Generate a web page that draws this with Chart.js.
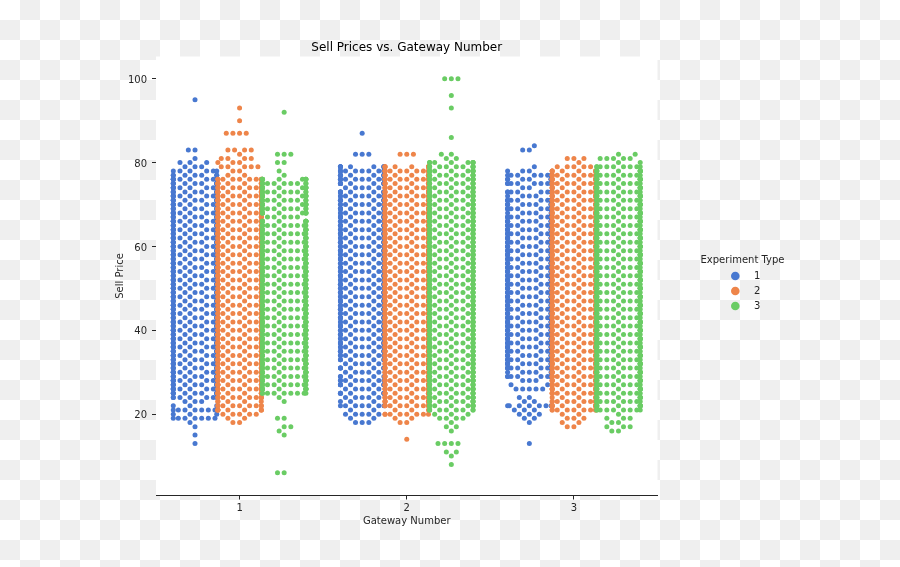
<!DOCTYPE html>
<html>
<head>
<meta charset="utf-8">
<script src="https://cdn.jsdelivr.net/npm/chart.js@4"></script>
<style>
html,body{margin:0;padding:0;width:900px;height:567px;overflow:hidden;
background:conic-gradient(#efefef 25%,#fff 0 50%,#efefef 0 75%,#fff 0) 0 0/40px 40px;}
#wrap{width:900px;height:567px;position:relative}
canvas{display:block}
</style>
</head>
<body>
<div id="wrap"><canvas id="c" width="900" height="567"></canvas></div>
<script>
const chartTitle = "Sell Prices vs. Gateway Number";
const xTitle = "Gateway Number";
const yTitle = "Sell Price";
const legendTitle = "Experiment Type";
const gatewayLabels = ["1","2","3"];
const typeLabels = ["1","2","3"];
const typeColors = ["#4878d0","#ee854a","#6acc64"];
const yTicks = [20,40,60,80,100];

// price rows (integers) and how many sales sit on each row
const g1t1Prices = [13,15,17,18,19,20,21,22,23,24,25,26,27,28,29,30,31,32,33,34,35,36,37,38,39,40,41,42,43,44,45,46,47,48,49,50,51,52,53,54,55,56,57,58,59,60,61,62,63,64,65,66,67,68,69,70,71,72,73,74,75,76,77,78,79,80,81,83,95];
const g1t1Counts = [1,1,1,1,7,3,7,3,3,7,10,10,10,10,10,10,10,10,10,10,10,10,10,10,10,10,10,10,10,10,10,10,10,10,10,10,10,10,10,10,10,10,10,10,10,10,10,10,10,10,10,10,10,10,10,10,10,10,10,10,10,10,7,6,3,3,1,2,1];
const g1t2Prices = [18,19,20,21,22,23,24,25,26,27,28,29,30,31,32,33,34,35,36,37,38,39,40,41,42,43,44,45,46,47,48,49,50,51,52,53,54,55,56,57,58,59,60,61,62,63,64,65,66,67,68,69,70,71,72,73,74,75,76,77,78,79,80,81,82,83,87,90,93];
const g1t2Counts = [2,2,5,9,9,5,10,10,10,10,10,10,10,10,10,10,10,10,10,10,10,10,10,10,10,10,10,10,10,10,10,10,10,10,10,10,10,10,10,10,10,10,10,10,10,10,10,10,10,10,10,10,10,10,10,10,10,10,9,2,2,5,3,4,1,4,4,1,1];
const g1t3Prices = [6,15,16,17,19,23,24,25,26,27,28,29,30,31,32,33,34,35,36,37,38,39,40,41,42,43,44,45,46,47,48,49,50,51,52,53,54,55,56,57,58,59,60,61,62,63,64,65,66,67,68,69,70,71,72,73,74,75,76,77,78,80,82,92];
const g1t3Counts = [2,1,1,2,2,1,1,9,10,10,10,10,10,10,10,10,10,10,10,10,10,10,10,10,10,10,10,10,10,10,10,10,10,10,10,10,10,10,10,10,10,10,10,10,10,10,10,10,10,5,10,10,10,10,10,10,10,10,9,1,1,2,3,1];
const g2t1Prices = [18,19,20,21,22,23,24,25,26,27,28,29,30,31,32,33,34,35,36,37,38,39,40,41,42,43,44,45,46,47,48,49,50,51,52,53,54,55,56,57,58,59,60,61,62,63,64,65,66,67,68,69,70,71,72,73,74,75,76,77,78,79,82,87];
const g2t1Counts = [3,2,5,2,7,3,5,8,5,8,8,5,5,8,5,6,9,9,10,10,10,10,10,10,10,10,10,10,10,10,10,10,10,10,10,10,10,10,10,10,10,10,10,10,10,10,10,10,10,10,10,10,10,10,10,10,5,10,10,10,10,9,3,1];
const g2t2Prices = [14,18,19,20,21,22,23,24,25,26,27,28,29,30,31,32,33,34,35,36,37,38,39,40,41,42,43,44,45,46,47,48,49,50,51,52,53,54,55,56,57,58,59,60,61,62,63,64,65,66,67,68,69,70,71,72,73,74,75,76,77,78,79,82];
const g2t2Counts = [1,2,2,8,3,10,10,10,10,10,10,10,10,10,10,10,10,10,10,10,10,10,10,10,10,10,10,10,10,10,10,10,10,10,10,10,10,10,10,10,10,10,10,10,10,10,10,10,10,10,10,10,10,10,10,10,10,10,10,10,10,10,9,3];
const g2t3Prices = [8,10,11,13,16,17,18,19,20,21,22,23,24,25,26,27,28,29,30,31,32,33,34,35,36,37,38,39,40,41,42,43,44,45,46,47,48,49,50,51,52,53,54,55,56,57,58,59,60,61,62,63,64,65,66,67,68,69,70,71,72,73,74,75,76,77,78,79,80,81,82,86,93,96,100];
const g2t3Counts = [1,1,2,4,1,2,1,4,3,9,10,10,10,10,10,10,10,10,10,10,10,10,10,10,10,10,10,10,10,10,10,10,10,10,10,10,10,10,10,10,10,10,10,10,10,10,10,10,10,10,10,10,10,10,10,10,10,10,10,10,10,10,10,10,10,10,10,10,8,2,2,1,1,1,3];
const g3t1Prices = [13,18,19,20,21,22,23,24,26,27,28,29,30,31,32,33,34,35,36,37,38,39,40,41,42,43,44,45,46,47,48,49,50,51,52,53,54,55,56,57,58,59,60,61,62,63,64,65,66,67,68,69,70,71,72,73,74,75,76,77,78,79,83,84];
const g3t1Counts = [1,1,2,3,3,7,2,2,5,2,3,8,5,10,10,10,10,10,10,10,10,10,10,10,10,10,10,10,10,10,10,10,10,10,10,10,10,10,10,10,10,10,10,10,10,10,10,10,10,10,5,9,9,9,4,8,2,8,7,7,3,1,2,1];
const g3t2Prices = [17,18,19,20,21,22,23,24,25,26,27,28,29,30,31,32,33,34,35,36,37,38,39,40,41,42,43,44,45,46,47,48,49,50,51,52,53,54,55,56,57,58,59,60,61,62,63,64,65,66,67,68,69,70,71,72,73,74,75,76,77,78,79,80,81];
const g3t2Counts = [2,2,3,2,9,10,10,5,10,10,10,10,10,10,10,10,10,10,10,10,10,10,10,10,10,10,10,10,10,10,10,10,10,10,10,10,10,10,10,10,10,10,10,10,10,10,10,10,10,10,10,10,10,10,10,10,10,10,10,10,10,8,5,1,3];
const g3t3Prices = [16,17,18,19,20,21,22,23,24,25,26,27,28,29,30,31,32,33,34,35,36,37,38,39,40,41,42,43,44,45,46,47,48,49,50,51,52,53,54,55,56,57,58,59,60,61,62,63,64,65,66,67,68,69,70,71,72,73,74,75,76,77,78,79,80,81,82];
const g3t3Counts = [2,3,2,3,1,9,10,10,10,10,10,10,10,10,10,10,10,10,10,10,10,10,10,10,10,10,10,10,10,10,10,10,10,10,10,10,10,10,10,10,10,10,10,10,10,10,10,10,10,10,10,10,10,10,10,10,10,10,10,10,10,10,10,9,2,5,2];

const swarms = [
  [[g1t1Prices,g1t1Counts],[g2t1Prices,g2t1Counts],[g3t1Prices,g3t1Counts]],
  [[g1t2Prices,g1t2Counts],[g2t2Prices,g2t2Counts],[g3t2Prices,g3t2Counts]],
  [[g1t3Prices,g1t3Counts],[g2t3Prices,g2t3Counts],[g3t3Prices,g3t3Counts]]
];

// Swarm layout (same method as a seaborn swarmplot)
const PX_X = 167.3, PX_Y = 4.19, DOT = 6.35, DODGE = 0.8/3, GUTTER = 0.13;
function beeswarm(prices, counts){
  const placed = [], out = [];
  prices.forEach((p,r)=>{
    const y = p*PX_Y;
    for(let n=0;n<counts[r];n++){
      const nb = [];
      for(let j=placed.length-1;j>=0;j--){
        if(y-placed[j][1] < DOT) nb.unshift(placed[j]); else break;
      }
      const cand=[0]; let leftFirst=true;
      nb.forEach(q=>{
        const dy=y-q[1], dx=Math.sqrt(Math.max(DOT*DOT-dy*dy,0))*1.05;
        if(leftFirst) cand.push(q[0]-dx,q[0]+dx); else cand.push(q[0]+dx,q[0]-dx);
        leftFirst=!leftFirst;
      });
      const sorted=cand.map((v,i)=>[v,i]).sort((a,b)=>Math.abs(a[0])-Math.abs(b[0])||a[1]-b[1]).map(a=>a[0]);
      let x=0;
      for(const c of sorted){
        if(nb.every(q=>(q[0]-c)*(q[0]-c)+(q[1]-y)*(q[1]-y)>=DOT*DOT-1e-9)){x=c;break;}
      }
      placed.push([x,y]);
      out.push({dx:x/PX_X,price:p});
    }
  });
  return out;
}
function seriesFor(t){
  const pts=[];
  swarms[t].forEach((s,g)=>{
    const center=g+(t-1)*DODGE;
    beeswarm(s[0],s[1]).forEach(o=>{
      const dx=Math.max(-GUTTER,Math.min(GUTTER,o.dx));
      pts.push({x:center+dx,y:o.price});
    });
  });
  return pts;
}

const INK="#262626", FONT="'DejaVu Sans'";
const whitePlot={id:'whitePlot',beforeDraw(ch){
  const a=ch.chartArea,c=ch.ctx;
  c.save();c.fillStyle='#fff';c.fillRect(a.left,a.top,a.right-a.left,a.bottom-a.top);c.restore();
}};
const sideLegend={id:'sideLegend',afterDraw(ch){
  const c=ch.ctx;c.save();
  c.font="10px "+FONT;c.fillStyle=INK;c.textBaseline='middle';
  c.textAlign='center';c.fillText(legendTitle,742.5,260.5);
  c.textAlign='left';
  ch.data.datasets.forEach((d,i)=>{
    const y=276+15*i;
    c.beginPath();c.arc(735.3,y,4.3,0,Math.PI*2);c.fillStyle=d.backgroundColor;c.fill();
    c.fillStyle=INK;c.fillText(d.label,754,y);
  });
  c.restore();
}};

new Chart(document.getElementById('c'),{
  type:'scatter',
  data:{datasets:typeLabels.map((l,t)=>({
    label:l,data:seriesFor(t),backgroundColor:typeColors[t],borderWidth:0,
    pointRadius:2.5,pointHoverRadius:2.5,order:3-t
  }))},
  plugins:[whitePlot,sideLegend],
  options:{
    responsive:false,animation:false,
    layout:{padding:{left:114,right:242.5,top:41,bottom:39.5}},
    plugins:{
      legend:{display:false},tooltip:{enabled:false},
      title:{display:true,text:chartTitle,fullSize:false,color:'#000',
        font:{family:FONT,size:12,weight:'normal',lineHeight:1.2},padding:{top:0,bottom:1.1}}
    },
    scales:{
      x:{type:'linear',min:-0.5,max:2.5,
        afterBuildTicks(ax){ax.ticks=gatewayLabels.map((_,i)=>({value:i}));},
        afterFit(ax){ax.height=32;},
        ticks:{autoSkip:false,maxRotation:0,padding:3,color:INK,font:{family:FONT,size:10},
          callback:(v)=>gatewayLabels[v]},
        grid:{drawOnChartArea:false,drawTicks:true,tickLength:4,tickColor:INK,tickWidth:1},
        border:{display:true,color:INK,width:1},
        title:{display:true,text:xTitle,color:INK,font:{family:FONT,size:10,lineHeight:1.2},padding:0}
      },
      y:{type:'linear',min:0.6,max:105.3,
        afterBuildTicks(ax){ax.ticks=yTicks.map(v=>({value:v}));},
        afterFit(ax){ax.width=42;},
        ticks:{padding:5,labelOffset:1.5,color:INK,font:{family:FONT,size:10},callback:(v)=>String(v)},
        grid:{drawOnChartArea:false,drawTicks:true,tickLength:4,tickColor:INK,tickWidth:1},
        border:{display:false},
        title:{display:true,text:yTitle,color:INK,font:{family:FONT,size:10,lineHeight:1.2},padding:0}
      }
    }
  }
});
</script>
</body>
</html>
